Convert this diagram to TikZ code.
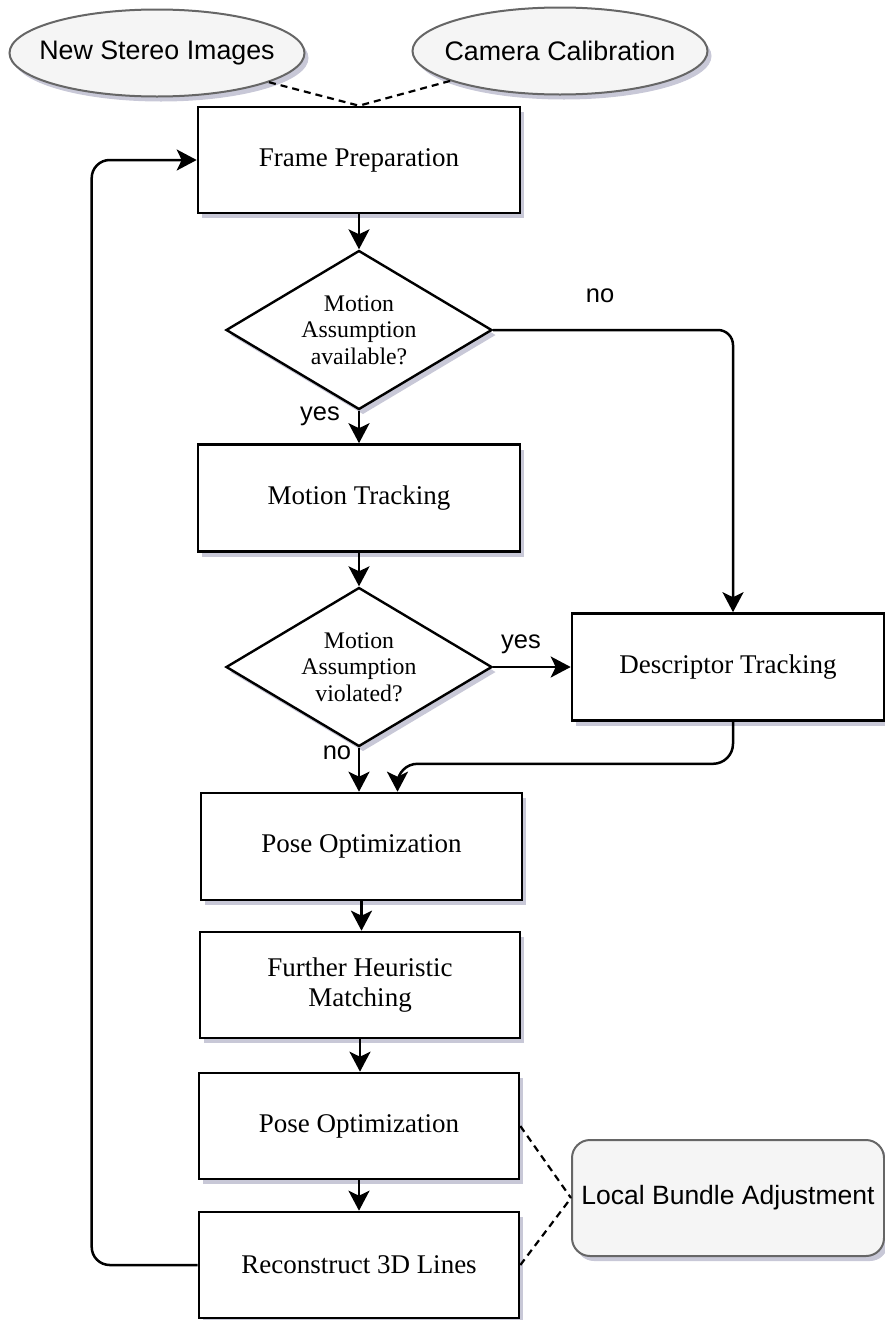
\documentclass[tikz,border=0pt]{standalone}
\usepackage{fontspec}
\setmainfont{Liberation Serif}
\setsansfont{Liberation Sans}
\usetikzlibrary{shapes.geometric,arrows.meta,shadows,calc}
\begin{document}
\begin{tikzpicture}[x=1pt,y=-1pt,
  shad/.style={drop shadow={shadow xshift=4pt,shadow yshift=-5pt,fill=black!30!blue!25!gray,opacity=0.35}},
  procbox/.style={draw=black,line width=2.6pt,fill=white,shad,minimum width=#1,inner sep=0pt,
     font=\fontsize{27}{30}\selectfont,align=center},
  decide/.style={diamond,aspect=1.673,draw=black,line width=2.4pt,fill=white,shad,inner sep=0pt,
     minimum width=266pt,minimum height=159pt,font=\fontsize{23.8}{26.5}\selectfont,align=center},
  source/.style={ellipse,draw=black!60,line width=2pt,fill=black!4,shad,inner xsep=-20pt,inner ysep=0pt,
     minimum width=295pt,minimum height=87pt,font=\sffamily\fontsize{26.8}{30}\selectfont},
  lbabox/.style={rounded corners=18pt,draw=black!60,line width=2pt,fill=black!4,shad,inner sep=0pt,
     minimum width=312pt,minimum height=116pt,font=\sffamily\fontsize{26.5}{30}\selectfont},
  flow/.style={line width=2.5pt,-{Stealth[length=20pt,width=21pt,inset=5pt]}},
  link/.style={line width=2.2pt,dashed,dash pattern=on 7pt off 5pt},
  lbl/.style={font=\sffamily\fontsize{25.5}{29}\selectfont,inner sep=0pt}
]
\useasboundingbox (0,0) rectangle (885,1320);

\node[source] (e1) at (157,53) {New Stereo Images};
\node[source] (e2) at (560,51) {Camera Calibration};

\node[procbox=322pt,minimum height=106pt] (fp) at (359,160) {Frame Preparation};
\node[decide] (d1) at (359,330) {Motion\\Assumption\\available?};
\node[procbox=322pt,minimum height=107pt] (mt) at (359,498) {Motion Tracking};
\node[decide] (d2) at (359,667) {Motion\\Assumption\\violated?};
\node[procbox=312pt,minimum height=107pt] (dt) at (728,667) {Descriptor Tracking};
\node[procbox=321pt,minimum height=107pt] (po1) at (361.5,846.5) {Pose Optimization};
\node[procbox=320pt,minimum height=106pt] (fh) at (360,985) {Further Heuristic\\Matching};
\node[procbox=320pt,minimum height=106pt] (po2) at (359,1126) {Pose Optimization};
\node[procbox=320pt,minimum height=106pt] (rl) at (359,1265) {Reconstruct 3D Lines};
\node[lbabox] (lba) at (728,1198) {Local Bundle Adjustment};

\coordinate (dtin) at ([xshift=5pt]dt.north);
\coordinate (dtout) at ([xshift=5pt]dt.south);
\coordinate (poin) at ([xshift=36pt]po1.north);

\draw[link] (e1) -- (fp.north);
\draw[link] (e2) -- (fp.north);

\draw[flow] (fp.south) -- (d1.north);
\draw[flow] (d1.south) -- (mt.north);
\draw[flow,rounded corners=15pt] (d1.east) -| (dtin);
\draw[flow] (mt.south) -- (d2.north);
\draw[flow] (d2.east) -- (dt.west);
\draw[flow] (d2.south) -- (d2.south |- po1.north);
\draw[flow,rounded corners=20pt] (dtout) -- ++(0,42) -| (poin);
\draw[flow] (po1.south) -- (po1.south |- fh.north);
\draw[flow] (fh.south) -- (fh.south |- po2.north);
\draw[flow] (po2.south) -- (rl.north);
\draw[flow,rounded corners=18pt] (rl.west) -- ++(-106,0) |- (fp.west);

\draw[link] (po2.east) -- (lba.west);
\draw[link] (rl.east) -- (lba.west);

\node[lbl] (yes1) at (320,416) {yes};
\node[lbl] (no1) at (600,296) {no};
\node[lbl] (yes2) at (521,644) {yes};
\node[lbl] (no2) at (337,753) {no};
\end{tikzpicture}
\end{document}
